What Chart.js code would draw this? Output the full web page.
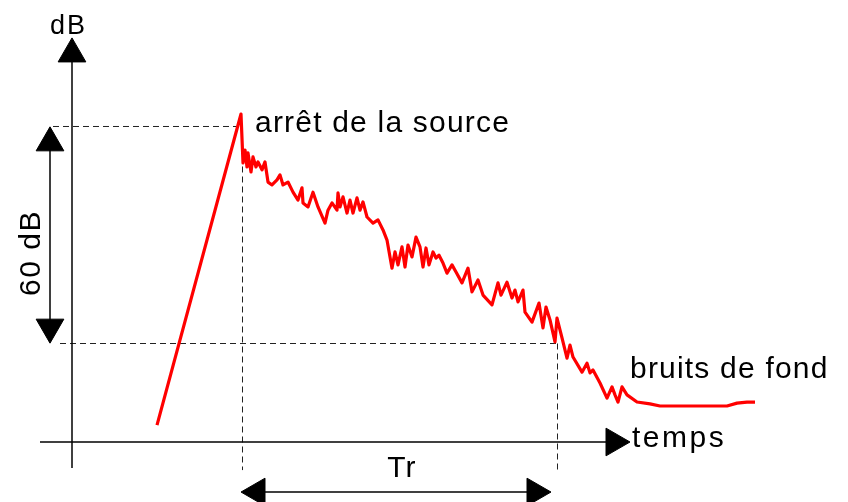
<!DOCTYPE html>
<html lang="fr">
<head>
<meta charset="utf-8">
<title>Temps de réverbération</title>
<script src="https://cdn.jsdelivr.net/npm/chart.js@4.4.1/dist/chart.umd.min.js"></script>
<style>
  html, body { margin: 0; padding: 0; background: #fff; }
  canvas { display: block; }
</style>
</head>
<body>
<canvas id="chart" width="848" height="502"></canvas>
<script>
// ==========================================
// DONNÉES (temps en unités arbitraires, niveau en dB)
// ==========================================
const decayTime = [42.5, 84.5, 85.5, 86.5, 87.5, 88, 89.5, 90.5, 92, 93,
    95, 96.5, 98, 100, 102.5, 104, 105.5, 108, 110.5, 113,
    115, 115.5, 118, 120.5, 123, 126.5, 128, 130, 132.5, 133,
    134, 135.5, 137.5, 139, 140.5, 142.5, 144, 145.5, 147.5, 150.5,
    153, 155.5, 157.5, 159, 160, 161.5, 163, 165, 166.5, 168,
    170, 172, 174, 175.5, 177, 178.5, 180.5, 182, 183.5, 185.5,
    187.5, 190, 192, 195, 198, 200, 203, 205.5, 210, 213,
    214.5, 217.5, 220, 221.5, 223, 225.5, 226.5, 230, 233.5, 235.5,
    237, 239, 241.5, 242.5, 245, 247.5, 249, 250.5, 255, 257.5,
    259, 260.5, 264, 267.5, 270, 271.5, 273, 275, 277.5, 282.5,
    289, 294, 312.5, 327.5, 332.5, 337.5, 341.5];

const decayLevel = [4.7, 91.1, 77.5, 81.1, 76.4, 80.3, 75.0, 79.2, 76.4, 77.8,
    75.6, 77.8, 72.2, 71.4, 72.8, 74.2, 71.4, 72.2, 69.4, 67.2,
    70.6, 66.4, 65.3, 69.4, 65.3, 60.8, 64.4, 66.4, 64.4, 69.2,
    65.3, 68.1, 63.6, 67.2, 63.6, 67.8, 64.4, 66.7, 62.5, 60.8,
    61.7, 58.9, 56.1, 51.4, 48.3, 52.8, 49.2, 54.2, 48.6, 54.7,
    51.4, 56.9, 54.2, 48.6, 53.9, 49.2, 52.8, 51.1, 51.9, 49.7,
    46.9, 49.2, 47.2, 44.2, 48.3, 41.7, 45.0, 40.8, 38.1, 44.2,
    40.8, 44.4, 40.0, 42.2, 38.9, 42.2, 36.1, 33.3, 38.6, 31.7,
    37.5, 33.9, 27.8, 34.4, 28.9, 23.3, 26.9, 23.6, 19.4, 21.9,
    19.2, 20.0, 16.4, 12.2, 15.3, 13.1, 11.1, 15.3, 13.1, 11.1,
    10.6, 10.0, 10.0, 10.0, 10.8, 11.1, 11.1];

// repères du schéma
const stopTime = 85.25;     // arrêt de la source
const trEndTime = 242.75;   // fin de Tr
const stopLevel = 87.64;    // niveau à l'arrêt
const tailLevel = 27.36;    // niveau -60 dB

// axes et flèches
const axisTimeX = [-16, 271];
const axisLevelY = [-7.2, 107.8];
const rangeArrowY = [83.1, 31.9];
const rangeArrowX = -11;
const trArrowX = [92.5, 231.5];
const trArrowY = -13.9;
const guideBottom = -7.8;

const texts = {
    yAxis: 'dB',
    xAxis: 'temps',
    stop: 'arrêt de la source',
    noise: 'bruits de fond',
    range: '60 dB',
    tr: 'Tr'
};

function pts(xs, ys) {
    return xs.map((x, i) => ({ x: x, y: ys[i] }));
}

// ==========================================
// STYLES
// ==========================================
const solidBlack = {
    borderColor: '#000',
    borderWidth: 1.5,
    pointStyle: 'triangle',
    pointBackgroundColor: '#000',
    pointBorderColor: '#000',
    pointBorderWidth: 1,
    pointHoverRadius: 0,
    fill: false,
    order: 2
};

const dashed = {
    borderColor: '#222',
    borderWidth: 1,
    borderDash: [6, 4],
    pointRadius: 0,
    pointHoverRadius: 0,
    fill: false,
    order: 3
};

// ==========================================
// TEXTES
// ==========================================
const FONT = "'Liberation Sans', Arial, sans-serif";

const textPlugin = {
    id: 'texts',
    afterDatasetsDraw(chart) {
        const ctx = chart.ctx;
        const sx = chart.scales.x, sy = chart.scales.y;
        const px = v => sx.getPixelForValue(v);
        const py = v => sy.getPixelForValue(v);

        ctx.save();
        ctx.fillStyle = '#000';
        ctx.textBaseline = 'alphabetic';
        ctx.font = '30px ' + FONT;
        ctx.letterSpacing = '1.2px';

        ctx.textAlign = 'left';
        ctx.fillText(texts.stop, px(91.5), py(86.1));
        ctx.fillText(texts.noise, px(279), py(17.8));
        ctx.letterSpacing = '2.5px';
        ctx.fillText(texts.xAxis, px(280), py(-1.4));

        ctx.letterSpacing = '1.2px';
        ctx.textAlign = 'center';
        ctx.fillText(texts.tr, px(165), py(-9.7));

        ctx.font = '27px ' + FONT;
        ctx.letterSpacing = '2px';
        ctx.textAlign = 'left';
        ctx.fillText(texts.yAxis, px(-11), py(113.3));

        ctx.font = '30px ' + FONT;
        ctx.letterSpacing = '1.5px';
        ctx.translate(px(-20), py(52.5));
        ctx.rotate(-Math.PI / 2);
        ctx.textAlign = 'center';
        ctx.textBaseline = 'middle';
        ctx.fillText(texts.range, 0, 0);
        ctx.restore();
    }
};

// ==========================================
// GRAPHIQUE
// ==========================================
const chart = new Chart(document.getElementById('chart'), {
    type: 'line',
    data: {
        datasets: [
            {
                label: 'niveau',
                data: pts(decayTime, decayLevel),
                borderColor: '#ff0000',
                borderWidth: 3.2,
                borderJoinStyle: 'round',
                tension: 0,
                pointRadius: 0,
                pointHoverRadius: 0,
                fill: false,
                order: 0
            },
            Object.assign({ data: pts([0, 0], axisLevelY), pointRadius: [0, 16], pointRotation: [0, 0] }, solidBlack),
            Object.assign({ data: pts(axisTimeX, [0, 0]), pointRadius: [0, 16], pointRotation: [0, 90] }, solidBlack),
            Object.assign({ data: pts([rangeArrowX, rangeArrowX], rangeArrowY), pointRadius: [16, 16], pointRotation: [0, 180] }, solidBlack),
            Object.assign({ data: pts(trArrowX, [trArrowY, trArrowY]), pointRadius: [16, 16], pointRotation: [270, 90] }, solidBlack),
            Object.assign({ data: pts([-9.5, 84.5], [stopLevel, stopLevel]) }, dashed),
            Object.assign({ data: pts([-6, trEndTime], [tailLevel, tailLevel]) }, dashed),
            Object.assign({ data: pts([stopTime, stopTime], [stopLevel, guideBottom]) }, dashed),
            Object.assign({ data: pts([trEndTime, trEndTime], [tailLevel, guideBottom]) }, dashed)
        ]
    },
    options: {
        responsive: false,
        animation: false,
        events: [],
        layout: { padding: 0, autoPadding: false },
        plugins: {
            legend: { display: false },
            tooltip: { enabled: false }
        },
        scales: {
            x: { type: 'linear', min: -36, max: 388, display: false },
            y: { type: 'linear', min: -60 / 3.6, max: 442 / 3.6, display: false }
        }
    },
    plugins: [textPlugin]
});
</script>
</body>
</html>
